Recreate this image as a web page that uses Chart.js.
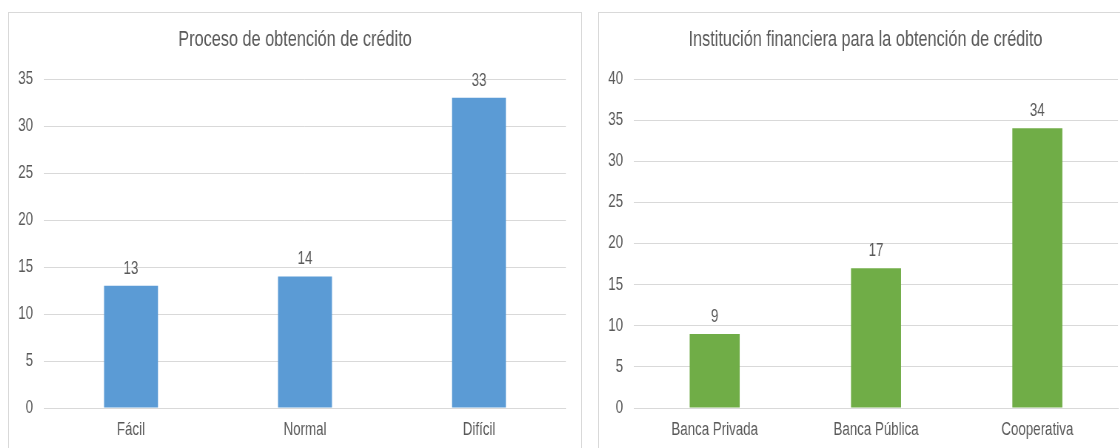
<!DOCTYPE html>
<html>
<head>
<meta charset="utf-8">
<script src="https://cdn.jsdelivr.net/npm/chart.js@4.4.1/dist/chart.umd.min.js"></script>
<style>
  html, body { margin: 0; padding: 0; background: #ffffff; overflow: hidden; width: 1120px; height: 448px; }
  .panel { position: absolute; box-sizing: border-box; border: 1px solid #D9D9D9; background: #fff; overflow: hidden; }
  #p1 { left: 8px; top: 12px; width: 574px; height: 460px; }
  #p2 { left: 598px; top: 12px; width: 535px; height: 460px; }
  .panel canvas { display: block; transform-origin: 0 0; }
</style>
</head>
<body>
<div class="panel" id="p1"><canvas id="c1"></canvas></div>
<div class="panel" id="p2"><canvas id="c2"></canvas></div>
<script>
const title1 = 'Proceso de obtención de crédito';
const categories1 = ['Fácil', 'Normal', 'Difícil'];
const values1 = [13, 14, 33];
const yMax1 = 35;

const title2 = 'Institución financiera para la obtención de crédito';
const categories2 = ['Banca Privada', 'Banca Pública', 'Cooperativa'];
const values2 = [9, 17, 34];
const yMax2 = 40;

const yStep = 5;
const FONT = "'Liberation Sans', Arial, sans-serif";
const TEXT = '#595959';
const GRID = '#D9D9D9';
const K = 0.74; // horizontal compression of the original picture

const valueLabels = {
  id: 'valueLabels',
  afterDatasetsDraw(chart) {
    const ctx = chart.ctx;
    ctx.save();
    ctx.font = '18px ' + FONT;
    ctx.fillStyle = TEXT;
    ctx.textAlign = 'center';
    ctx.textBaseline = 'alphabetic';
    chart.data.datasets.forEach((ds, i) => {
      chart.getDatasetMeta(i).data.forEach((bar, j) => {
        ctx.fillText(String(ds.data[j]), bar.x, bar.y - 12);
      });
    });
    ctx.restore();
  }
};

const centeredTitle = {
  id: 'centeredTitle',
  afterDraw(chart, args, opts) {
    const ctx = chart.ctx;
    ctx.save();
    ctx.font = '22px ' + FONT;
    ctx.fillStyle = TEXT;
    ctx.textAlign = 'center';
    ctx.textBaseline = 'middle';
    ctx.fillText(opts.text, chart.width / 2, 27);
    ctx.restore();
  }
};

function makeChart(id, w, h, title, cats, vals, yMax, color, padR, axisW) {
  const cv = document.getElementById(id);
  const lw = Math.round(w / K);
  cv.width = lw; cv.height = h;
  cv.style.width = lw + 'px'; cv.style.height = h + 'px';
  cv.style.transform = 'scaleX(' + (w / lw) + ')';
  return new Chart(cv, {
    type: 'bar',
    data: {
      labels: cats,
      datasets: [{ data: vals, backgroundColor: color, borderWidth: 0,
        barPercentage: 0.31, categoryPercentage: 1.0 }]
    },
    options: {
      responsive: false,
      animation: false,
      layout: { padding: { left: 0, right: padR / K, top: 66, bottom: 0 } },
      plugins: {
        legend: { display: false },
        tooltip: { enabled: false },
        title: { display: false },
        centeredTitle: { text: title }
      },
      scales: {
        x: {
          grid: { display: false, drawTicks: false },
          border: { display: true, color: GRID, width: 1 },
          ticks: { color: TEXT, font: { family: FONT, size: 18 }, padding: 11, maxRotation: 0 },
          afterFit(s) { s.height = 53; }
        },
        y: {
          min: 0, max: yMax,
          grid: { color: GRID, lineWidth: 1, drawTicks: false },
          border: { display: false },
          ticks: { stepSize: yStep, color: TEXT, font: { family: FONT, size: 18 }, padding: 11 / K },
          afterFit(s) { s.width = axisW / K; }
        }
      }
    },
    plugins: [valueLabels, centeredTitle]
  });
}

makeChart('c1', 572, 448, title1, categories1, values1, yMax1, '#5B9BD5', 15, 35);
makeChart('c2', 533, 448, title2, categories2, values2, yMax2, '#70AD47', 14, 35);
</script>
</body>
</html>
